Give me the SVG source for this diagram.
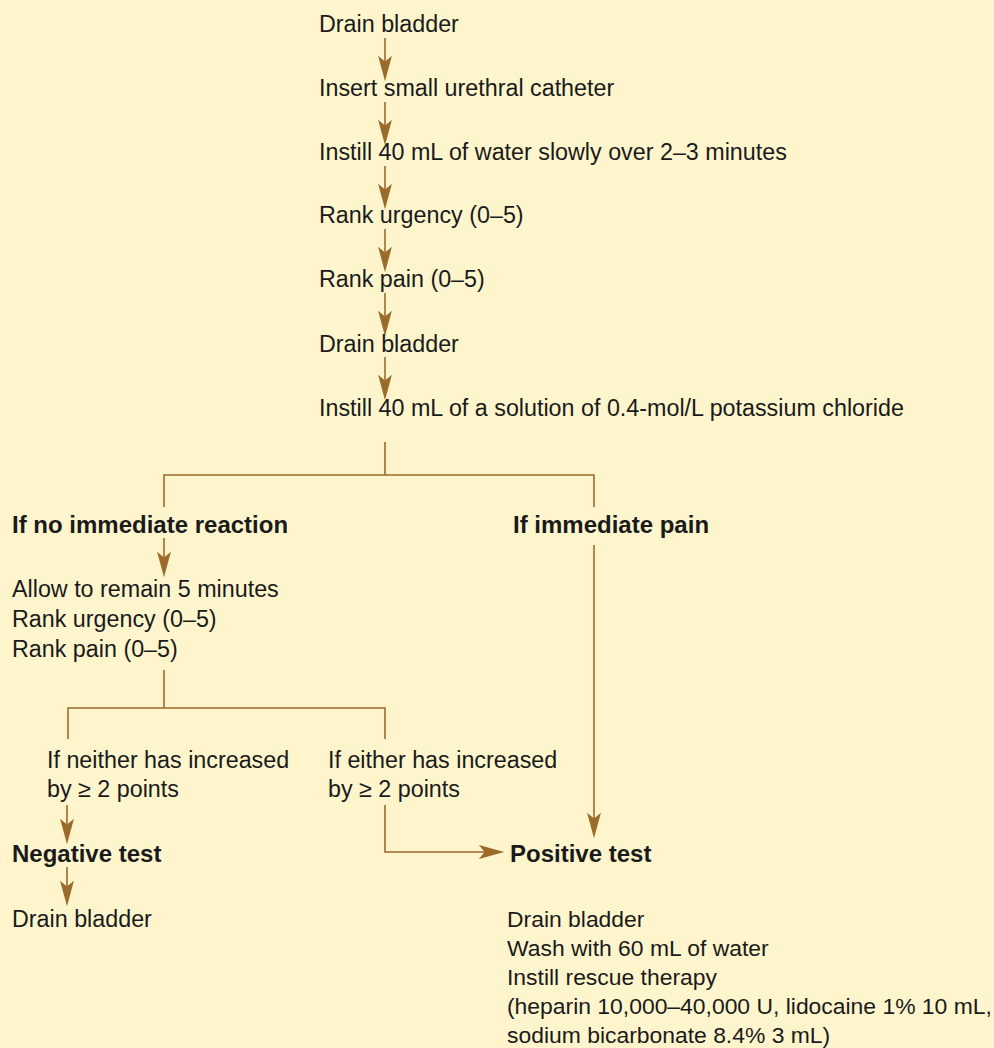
<svg xmlns="http://www.w3.org/2000/svg" width="994" height="1048" viewBox="0 0 994 1048">
<defs>
<style>
text{font-family:"Liberation Sans",Arial,sans-serif;font-size:23.3px;fill:#1a1a1a}
.b{font-weight:bold;font-size:24px}
.s{font-size:22.9px}
.c{fill:none;stroke:#9C6A2B;stroke-width:1.6}
.a{marker-end:url(#ah)}
</style>
<marker id="ah" markerUnits="userSpaceOnUse" markerWidth="30" markerHeight="20" viewBox="-16 -8 26 16" refX="0" refY="0" orient="auto" overflow="visible">
<path d="M8,0 L-14,-6 L-9,0 L-14,6 Z" fill="#9C6A2B"/>
</marker>
</defs>
<rect width="994" height="1048" fill="#FEF5CD"/>
<g id="connectors">
<line class="c a" x1="385" y1="38" x2="385" y2="72"/>
<line class="c a" x1="385" y1="102" x2="385" y2="136"/>
<line class="c a" x1="385" y1="166" x2="385" y2="200"/>
<line class="c a" x1="385" y1="229" x2="385" y2="263"/>
<line class="c a" x1="385" y1="293" x2="385" y2="327"/>
<line class="c a" x1="385" y1="357" x2="385" y2="391"/>
<path class="c" d="M385,442 V475 M164,507 V475 H594 V507"/>
<line class="c a" x1="164" y1="538" x2="164" y2="568"/>
<path class="c" d="M164,670 V708 M68,739 V708 H385 V739"/>
<line class="c a" x1="67" y1="805" x2="67" y2="835"/>
<line class="c a" x1="67" y1="867" x2="67" y2="897"/>
<path class="c a" d="M385,805 V852 H495"/>
<line class="c a" x1="594" y1="545" x2="594" y2="829"/>
</g>
<g id="n1"><text x="319" y="32">Drain bladder</text></g>
<g id="n2"><text x="319" y="96">Insert small urethral catheter</text></g>
<g id="n3"><text x="319" y="160">Instill 40 mL of water slowly over 2–3 minutes</text></g>
<g id="n4"><text x="319" y="223">Rank urgency (0–5)</text></g>
<g id="n5"><text x="319" y="287">Rank pain (0–5)</text></g>
<g id="n6"><text x="319" y="352">Drain bladder</text></g>
<g id="n7"><text x="319" y="416">Instill 40 mL of a solution of 0.4-mol/L potassium chloride</text></g>
<g id="n8"><text class="b" x="12" y="533">If no immediate reaction</text></g>
<g id="n9"><text class="b" x="513" y="533">If immediate pain</text></g>
<g id="n10"><text x="12" y="597">Allow to remain 5 minutes</text><text x="12" y="627">Rank urgency (0–5)</text><text x="12" y="657">Rank pain (0–5)</text></g>
<g id="n11"><text x="47" y="768">If neither has increased</text><text x="47" y="797">by ≥ 2 points</text></g>
<g id="n12"><text x="328" y="768">If either has increased</text><text x="328" y="797">by ≥ 2 points</text></g>
<g id="n13"><text class="b" x="12" y="862">Negative test</text></g>
<g id="n14"><text x="12" y="927">Drain bladder</text></g>
<g id="n15"><text class="b" x="510" y="862">Positive test</text></g>
<g id="n16"><text class="s" x="507" y="927">Drain bladder</text><text class="s" x="507" y="956">Wash with 60 mL of water</text><text class="s" x="507" y="985">Instill rescue therapy</text><text class="s" x="507" y="1014">(heparin 10,000–40,000 U, lidocaine 1% 10 mL,</text><text class="s" x="507" y="1043">sodium bicarbonate 8.4% 3 mL)</text></g>
</svg>
